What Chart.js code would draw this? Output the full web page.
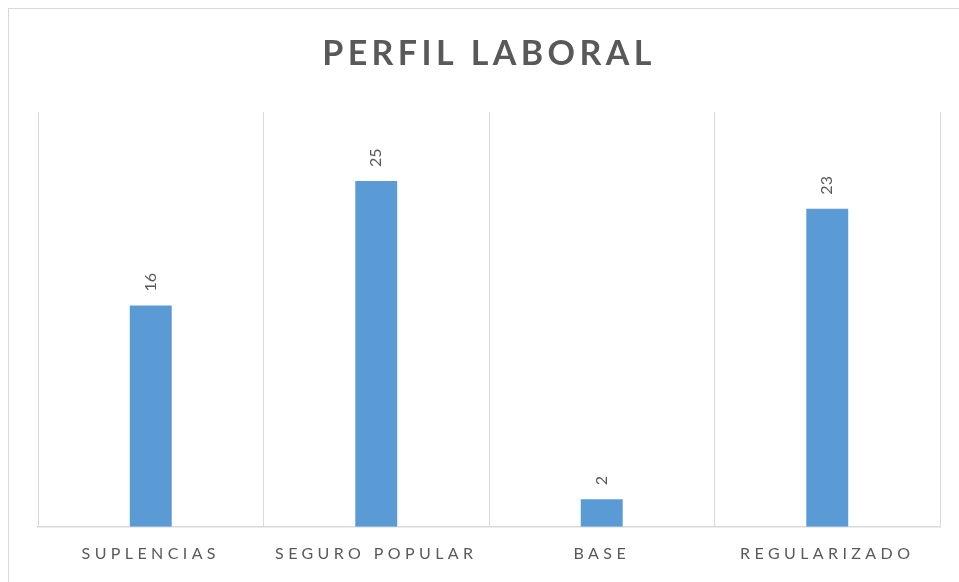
<!DOCTYPE html>
<html>
<head>
<meta charset="utf-8">
<script src="https://cdn.jsdelivr.net/npm/chart.js@4"></script>
<style>
  html, body { margin: 0; padding: 0; background: #fff; overflow: hidden; }
  #wrap { position: relative; width: 959px; height: 582px; }
  #frame { position: absolute; left: 8px; top: 8px; width: 970px; height: 590px;
           border: 1px solid #d9d9d9; pointer-events: none; }
</style>
</head>
<body>
<div id="wrap">
  <canvas id="barChartPerfil" width="959" height="582"></canvas>
  <div id="frame"></div>
</div>
<script>
var categorias = ['SUPLENCIAS', 'SEGURO POPULAR', 'BASE', 'REGULARIZADO'];
var valores = [16, 25, 2, 23];

// spacing between letters like the original (title and axis labels)
var letterSpacingPlugin = {
  id: 'letterSpacing',
  beforeDraw: function(chart) {
    chart.ctx.letterSpacing = '4.4px';
  }
};

// values written vertically above each bar
var etiquetasPlugin = {
  id: 'etiquetas',
  afterDatasetsDraw: function(chart) {
    var ctx = chart.ctx;
    var meta = chart.getDatasetMeta(0);
    ctx.save();
    ctx.letterSpacing = '0px';
    ctx.font = '16px Lato, "Open Sans", sans-serif';
    ctx.fillStyle = '#595959';
    ctx.textAlign = 'left';
    ctx.textBaseline = 'middle';
    meta.data.forEach(function(bar, i) {
      ctx.save();
      ctx.translate(bar.x, bar.y - 14);
      ctx.rotate(-Math.PI / 2);
      ctx.fillText(String(valores[i]), 0, 0);
      ctx.restore();
    });
    ctx.restore();
  }
};

var ctx = document.getElementById('barChartPerfil').getContext('2d');
var barChartPerfil = new Chart(ctx, {
  type: 'bar',
  data: {
    labels: categorias,
    datasets: [{
      label: 'Perfil laboral',
      data: valores,
      backgroundColor: '#5b9bd5',
      barPercentage: 0.186,
      categoryPercentage: 1
    }]
  },
  options: {
    responsive: false,
    animation: false,
    events: [],
    scales: {
      x: {
        grid: {
          color: '#d9d9d9',
          offset: true,
          drawTicks: false
        },
        border: {
          color: '#d9d9d9',
          width: 1.5
        },
        ticks: {
          color: '#595959',
          padding: 17,
          maxRotation: 0,
          autoSkip: false,
          font: { family: 'Lato, "Open Sans", sans-serif', size: 16 }
        }
      },
      y: {
        display: false,
        min: 0,
        max: 30
      }
    },
    plugins: {
      legend: { display: false },
      tooltip: { enabled: false },
      title: {
        display: true,
        text: 'PERFIL LABORAL',
        color: '#595959',
        font: { family: 'Lato, "Open Sans", sans-serif', size: 34, weight: 'bold' },
        padding: { top: 34, bottom: 37 }
      }
    },
    layout: {
      padding: {
        left: 38,
        right: 19,
        top: 0,
        bottom: 2
      }
    }
  },
  plugins: [letterSpacingPlugin, etiquetasPlugin]
});
</script>
</body>
</html>
